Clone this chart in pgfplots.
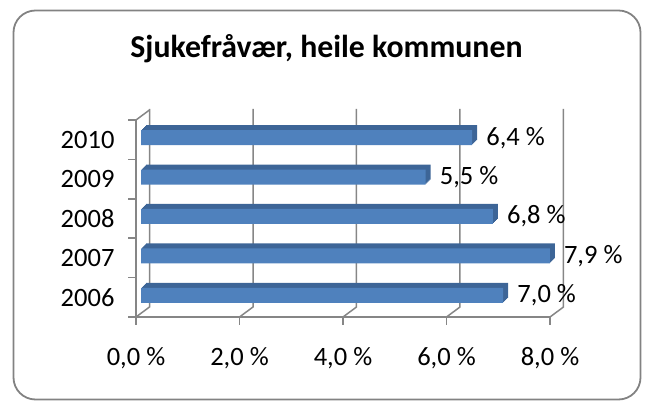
\documentclass[border=0pt]{standalone}
\usepackage{fontspec}
\setmainfont{Carlito}
\usepackage{pgfplots}
\pgfplotsset{compat=1.18}
\definecolor{barfront}{HTML}{4F81BD}
\definecolor{bartop}{HTML}{3D6597}
\definecolor{gridgray}{HTML}{868686}
\definecolor{framegray}{HTML}{828282}

% sjukefravaer per aar (prosent)
\pgfplotstableread{
idx year val
1 2006 7.0
2 2007 7.9
3 2008 6.8
4 2009 5.5
5 2010 6.4
}\fravaer

\begin{document}
\begin{tikzpicture}[x=1pt,y=1pt]
\path[use as bounding box] (0,0) rectangle (645,401);
\draw[framegray, line width=1.8pt, rounded corners=22pt] (13.5,1.5) rectangle (640.5,390.5);
\node[font=\fontsize{31.8}{36}\selectfont\bfseries, anchor=base, inner sep=0pt]
  at (326.5,343) {Sjukefråvær, heile kommunen};

\begin{axis}[
    at={(136pt,84pt)}, anchor=south west,
    scale only axis, width=414pt, height=197pt,
    xmin=0, xmax=8, ymin=0.5, ymax=5.5,
    clip=false,
    axis x line*=bottom, axis y line*=left,
    axis line style={gridgray, line width=1.5pt},
    tick style={gridgray, line width=1.5pt},
    tick align=outside, major tick length=8pt,
    xtick={0,2,4,6,8},
    xticklabels={{0,0 \%},{2,0 \%},{4,0 \%},{6,0 \%},{8,0 \%}},
    ytick={0.5,1.5,2.5,3.5,4.5,5.5},
    yticklabels={},
    extra y ticks={1,2,3,4,5},
    extra y tick labels={2006,2007,2008,2009,2010},
    extra y tick style={major tick length=0pt, tick style={draw=none}},
    ticklabel style={font=\fontsize{26.5}{30}\selectfont, text=black},
    xticklabel style={yshift=-19pt},
    yticklabel style={xshift=-18pt},
    point meta=x,
    /pgf/number format/assume math mode=true,
]
% 3D-vegger og rutenett
\pgfplotsinvokeforeach{0,2,4,6,8}{
  \draw[gridgray, line width=1.5pt] (axis cs:#1,0.5) -- ++(13.5pt,10pt) -- ++(0pt,198pt);
}
\draw[gridgray, line width=1.5pt] (axis cs:0,5.5) -- ++(13.5pt,10pt);

% toppflate og ende paa stolpane
\pgfplotsinvokeforeach{5,4,3,2,1}{
  \addplot[xbar, bar width=15pt, fill=bartop, draw=none,
    xshift={5pt+#1pt}, yshift={2pt+#1pt}] table[x=val, y=idx] {\fravaer};
}
% framsida
\addplot[xbar, bar width=15pt, fill=barfront, draw=none, xshift=5pt, yshift=2pt,
  nodes near coords={\pgfmathprintnumber[fixed, fixed zerofill, precision=1, use comma]{\pgfplotspointmeta}~\%},
  every node near coord/.append style={font=\fontsize{26.5}{30}\selectfont, text=black,
    anchor=west, inner sep=0pt, xshift=14pt}]
  table[x=val, y=idx] {\fravaer};
\end{axis}
\end{tikzpicture}
\end{document}
